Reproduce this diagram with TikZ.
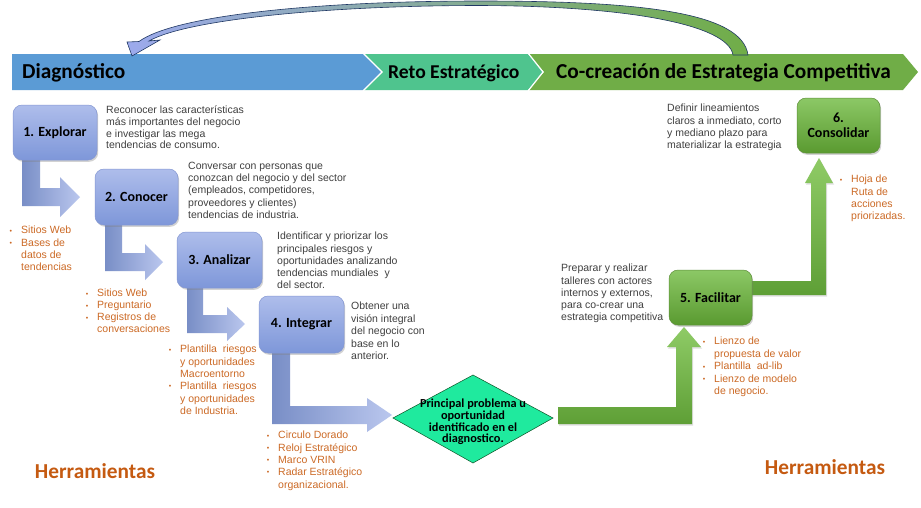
\documentclass[tikz,border=0pt]{standalone}
\usepackage{fontspec}
\setmainfont{Liberation Sans}
\newfontfamily\calfont{Carlito}
\usetikzlibrary{shadows}
\definecolor{diagblue}{HTML}{5B9BD5}
\definecolor{retogreen}{HTML}{4FC48E}
\definecolor{cocgreen}{HTML}{70AD47}
\definecolor{bluetop}{HTML}{AEBDEB}
\definecolor{bluebot}{HTML}{7E97D9}
\definecolor{bluedraw}{HTML}{8497D2}
\definecolor{greentop}{HTML}{8CC866}
\definecolor{greenbot}{HTML}{5A9A30}
\definecolor{greendraw}{HTML}{5E8F3A}
\definecolor{arrowgtop}{HTML}{8FCB66}
\definecolor{arrowgbot}{HTML}{5E9F36}
\definecolor{descgray}{HTML}{404040}
\definecolor{toolorange}{HTML}{CC6A26}
\definecolor{herrorange}{HTML}{C55A11}
\definecolor{diamondfill}{HTML}{1FEA9E}
\definecolor{arrowdark}{HTML}{203864}
\newcommand{\bul}{\llap{\raisebox{0.8pt}{\fontsize{7}{7}\selectfont\textbullet}\hspace{9pt}}}
\tikzset{
  stepbox/.style={rounded corners=9pt, line width=0.5pt, align=center, inner sep=0pt,
    font=\calfont\bfseries\fontsize{14}{15.5}\selectfont, text=black,
    drop shadow={shadow xshift=1.2pt, shadow yshift=-1.8pt, opacity=0.35}},
  bluebox/.style={stepbox, draw=bluedraw, top color=bluetop, bottom color=bluebot},
  greenbox/.style={stepbox, draw=greendraw, top color=greentop, bottom color=greenbot},
  desc/.style={anchor=north west, inner sep=0pt, align=left, text=descgray,
    font=\fontsize{10.5}{12.2}\selectfont},
  tool/.style={anchor=north west, inner sep=0pt, align=left, text=toolorange,
    font=\fontsize{10.5}{12.3}\selectfont},
  herr/.style={inner sep=0pt, text=herrorange, font=\calfont\bfseries\fontsize{21.3}{24}\selectfont},
  phase/.style={anchor=base west, inner sep=0pt, text=black, font=\calfont\bfseries\fontsize{21.3}{24}\selectfont},
  bluearrow/.style={left color=bluebot!90!black!95, right color=bluetop!85!white},
  greenarrow/.style={top color=arrowgtop, bottom color=arrowgbot,
    drop shadow={shadow xshift=1pt, shadow yshift=-1.5pt, opacity=0.25}},
}
\begin{document}
\begin{tikzpicture}[x=1pt,y=-1pt]
\fill[white] (0,0) rectangle (921,507);
\useasboundingbox (0,0) rectangle (921,507);

% phase bar
\fill[diagblue] (12,54) -- (363,54) -- (382,72) -- (363,90) -- (12,90) -- cycle;
\fill[retogreen] (364,54) -- (528,54) -- (543,72) -- (528,90) -- (364,90) -- (383,72) -- cycle;
\fill[cocgreen] (529,54) -- (903,54) -- (918,72) -- (903,90) -- (529,90) -- (544,72) -- cycle;
\draw[white, line width=1.2pt] (363,53) -- (382,72) -- (363,91);
\draw[white, line width=1.2pt] (528,53) -- (543,72) -- (528,91);
\node[phase] (pdiag) at (22,78.8) {Diagnóstico};
\node[phase, font=\calfont\bfseries\fontsize{19.6}{22}\selectfont] (preto) at (388,78.3) {Reto Estratégico};
\node[phase] (pcoc) at (556,78.8) {Co-creación de Estrategia Competitiva};

% curved feedback arrow
\path[draw=arrowdark, line width=0.6pt, left color=bluetop!90!blue, right color=cocgreen]
  (748,55) .. controls (742,12) and (640,1) .. (480,1)
  .. controls (320,1) and (175,15) .. (139,41.5)
  -- (127,42) -- (132,56) -- (160,40) -- (149,41)
  .. controls (185,20) and (325,5.5) .. (480,5.5)
  .. controls (625,6) and (728,24) .. (733,55) -- cycle;

% blue bent arrows
\path[bluearrow] (22,158) -- (40,158) -- (40,188) -- (60,188) -- (60,177) -- (80,197)
  -- (60,217) -- (60,206) -- (22,206) -- cycle;
\path[bluearrow] (105,223) -- (122,223) -- (122,253) -- (145,253) -- (145,244) -- (163,262)
  -- (145,280) -- (145,271) -- (105,271) -- cycle;
\path[bluearrow] (187,286) -- (203,286) -- (203,315) -- (227,315) -- (227,307) -- (245,324)
  -- (227,341) -- (227,333) -- (187,333) -- cycle;
\path[bluearrow] (272,351) -- (290,351) -- (290,406) -- (367,406) -- (367,398) -- (392,415)
  -- (367,432) -- (367,424) -- (272,424) -- cycle;

% green arrows
\path[greenarrow] (558,407) -- (676,407) -- (676,347) -- (667,347) -- (684,327) -- (701,347)
  -- (692,347) -- (692,424) -- (558,424) -- cycle;
\path[greenarrow] (745,281) -- (811,281) -- (811,183) -- (805,183) -- (819,158) -- (833,183)
  -- (826,183) -- (826,295) -- (745,295) -- cycle;

% diamond
\path[fill=diamondfill, draw=arrowdark!60!green!60!black, line width=0.5pt]
  (393,418) -- (473,375) -- (553,418) -- (473,463) -- cycle;
\node[align=center, inner sep=0pt, font=\calfont\bfseries\fontsize{12.3}{11.8}\selectfont]
  (dtext) at (473,422) {Principal problema u\\oportunidad\\identificado en el\\diagnostico.};

% step boxes
\node[bluebox, minimum width=84pt, minimum height=55pt] (b1) at (55,132.5) {1. Explorar};
\node[bluebox, minimum width=83pt, minimum height=56pt] (b2) at (136.5,197) {2. Conocer};
\node[bluebox, minimum width=85pt, minimum height=56pt] (b3) at (219.5,260) {3. Analizar};
\node[bluebox, minimum width=85pt, minimum height=57pt] (b4) at (301.5,324.5) {4. Integrar};
\node[greenbox, minimum width=83pt, minimum height=55pt] (b5) at (710.5,297.5) {5. Facilitar};
\node[greenbox, minimum width=83pt, minimum height=55pt] (b6) at (838.5,125.5) {6.\\Consolidar};

% descriptions
\node[desc, font=\fontsize{10.5}{11.6}\selectfont] (d1) at (106,106) {Reconocer las características\\más importantes del negocio\\e investigar las mega\\tendencias de consumo.};
\node[desc] (d2) at (188,162) {Conversar con personas que\\conozcan del negocio y del sector\\(empleados, competidores,\\proveedores y clientes)\\tendencias de industria.};
\node[desc] (d3) at (277,232) {Identificar y priorizar los\\principales riesgos y\\oportunidades analizando\\tendencias mundiales\ \ y\\del sector.};
\node[desc, font=\fontsize{10.5}{12.5}\selectfont] (d4) at (351,302) {Obtener una\\visión integral\\del negocio con\\base en lo\\anterior.};
\node[desc] (d5) at (561,264) {Preparar y realizar\\talleres con actores\\internos y externos,\\para co-crear una\\estrategia competitiva};
\node[desc] (d6) at (667,104) {Definir lineamientos\\claros a inmediato,\ corto\\y mediano plazo para\\materializar la estrategia};

% tools
\node[tool] (t1) at (21,226) {\bul Sitios Web\\\bul Bases de\\datos de\\tendencias};
\node[tool, font=\fontsize{10.5}{12}\selectfont] (t2) at (97,289) {\bul Sitios Web\\\bul Preguntario\\\bul Registros de\\conversaciones};
\node[tool] (t3) at (180,345) {\bul Plantilla\ \ riesgos\\y oportunidades\\Macroentorno\\\bul Plantilla\ \ riesgos\\y oportunidades\\de Industria.};
\node[tool] (t4) at (278,431) {\bul Circulo Dorado\\\bul Reloj Estratégico\\\bul Marco VRIN\\\bul Radar Estratégico\\organizacional.};
\node[tool, font=\fontsize{10.5}{12.5}\selectfont] (t5) at (714,337) {\bul Lienzo de\\propuesta de valor\\\bul Plantilla\ \ ad-lib\\\bul Lienzo de modelo\\de negocio.};
\node[tool] (t6) at (851,175) {\bul Hoja de\\Ruta de\\acciones\\priorizadas.};

\node[herr] (h1) at (95,471) {Herramientas};
\node[herr] (h2) at (825,467) {Herramientas};
\end{tikzpicture}
\end{document}
